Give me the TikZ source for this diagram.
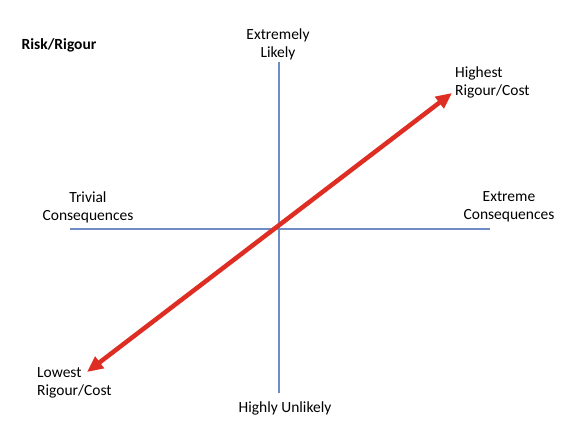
\documentclass[tikz,border=0pt]{standalone}
\usepackage{fontspec}
\setmainfont{Carlito}
\usepackage{xcolor}
\usetikzlibrary{arrows.meta,positioning}
\definecolor{axisblue}{RGB}{112,140,196}
\definecolor{arrowred}{RGB}{222,45,35}

\begin{document}
\begin{tikzpicture}[x=1pt,y=-1pt,
    label/.style={font=\fontsize{15.5}{18}\selectfont, align=center, inner sep=0pt},
    axis/.style={draw=axisblue, line width=1.6pt},
    riskarrow/.style={draw=arrowred, line width=4.5pt, {Triangle[length=16pt,width=14pt]}-{Triangle[length=16pt,width=14pt]}}]
                \useasboundingbox (0,0) rectangle (576,436);
                % axes
                \coordinate (top) at (279,62);
                \coordinate (bottom) at (279,393);
                \coordinate (left) at (70,229);
                \coordinate (right) at (490,229);
                \draw[axis] (top) -- (bottom);
                \draw[axis] (left) -- (right);
                % rigour arrow
                \coordinate (low) at (87,372);
                \coordinate (high) at (452,93);
                \draw[riskarrow] (low) -- (high);
                % labels
                \node[label, font=\fontsize{15.5}{18}\selectfont\bfseries] (title) at (59,45) {Risk/Rigour};
                \node[label] (likely) at (278,44) {Extremely\\Likely};
                \node[label] (unlikely) at (285,408) {Highly Unlikely};
                \node[label] (trivial) at (88,207) {Trivial\\Consequences};
                \node[label] (extreme) at (509,207) {Extreme\\Consequences};
                \node[label, align=left, anchor=west] (highest) at (455,82) {Highest\\Rigour/Cost};
                \node[label, align=left, anchor=west] (lowest) at (37,383) {Lowest\\Rigour/Cost};
            \end{tikzpicture}
\end{document}
